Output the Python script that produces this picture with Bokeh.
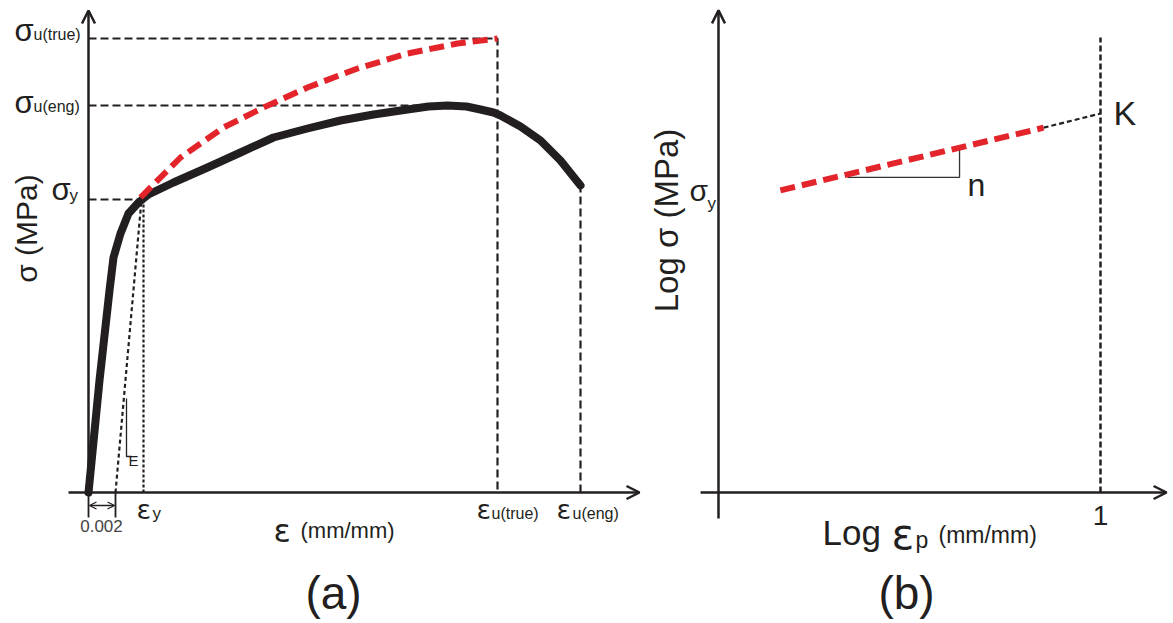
import math
from bokeh.plotting import figure
from bokeh.layouts import row
from bokeh.models import Range1d, Label, Arrow, OpenHead
from bokeh.embed import file_html
from bokeh.resources import INLINE

# ---------------- data: panel (a) engineering / true stress-strain (schematic units) -------------
eng_strain = [0.0, 0.11, 0.21, 0.25, 0.32, 0.40, 0.50, 0.60, 0.85, 1.19, 1.52, 1.85, 2.19,
              2.52, 2.85, 3.19, 3.40, 3.59, 3.78, 3.92, 4.05, 4.12, 4.32, 4.52, 4.72, 4.92]
eng_stress = [0.0, 1.12, 2.02, 2.35, 2.59, 2.79, 2.90, 2.98, 3.10, 3.25, 3.40, 3.55, 3.64,
              3.72, 3.78, 3.83, 3.86, 3.87, 3.86, 3.83, 3.80, 3.77, 3.66, 3.52, 3.32, 3.07]
true_strain = [0.52, 0.92, 1.35, 1.75, 2.19, 2.69, 3.19, 3.69, 4.09]
true_stress = [2.95, 3.35, 3.65, 3.85, 4.05, 4.24, 4.39, 4.49, 4.54]

eps_y, sigma_y = 0.55, 2.93
eps_u_true, sigma_u_true = 4.09, 4.54
eps_peak, sigma_u_eng = 3.59, 3.87
eps_u_eng, sigma_break = 4.92, 3.07
offset = 0.27
offset_top = 0.53
e_tri_x = [0.38, 0.38, 0.43]
e_tri_y = [0.94, 0.36, 0.36]

# ---------------- data: panel (b) log-log (schematic units) ----------------
log_strain = [0.162, 0.851]
log_stress = [0.791, 0.955]
k_strain, k_stress = 1.0, 0.992
n_tri_x = [0.338, 0.631, 0.631]
n_tri_y = [0.825, 0.825, 0.903]

INK = "#231f20"
RED = "#e3242b"
FONT = "Liberation Sans"
EFONT = "DejaVu Sans"
H = 621
WA, WB = 645, 525
BASE_FIX = 8  # alphabetic-baseline labels render a little low


def base_fig(w, xr, yr):
    p = figure(width=w, height=H, x_range=Range1d(*xr), y_range=Range1d(*yr),
               x_axis_type=None, y_axis_type=None, output_backend="svg",
               toolbar_location=None, min_border=0)
    p.outline_line_color = None
    p.background_fill_color = "white"
    p.border_fill_color = "white"
    return p


def lab(p, xoff, rx, ry, text, size, align="left", baseline="alphabetic", angle=0.0,
        color=INK, font=FONT):
    fix = BASE_FIX if baseline == "alphabetic" else 0
    p.add_layout(Label(x=rx - xoff, y=H - ry + fix, x_units="screen", y_units="screen", text=text,
                       text_font=font, text_font_size=f"{size}px", text_color=color,
                       text_align=align, text_baseline=baseline, angle=angle))


def axis_arrow(p, x0, y0, x1, y1):
    p.add_layout(Arrow(end=OpenHead(size=13, line_width=2.5, line_color=INK),
                       x_start=x0, y_start=y0, x_end=x1, y_end=y1,
                       line_width=2.5, line_color=INK))


# ---------------- panel (a) ----------------
pa = base_fig(WA, (-0.88, (WA - 88) / 100), ((492 - H) / 100, 4.92))
axis_arrow(pa, -0.2, 0, 5.51, 0)
axis_arrow(pa, 0, 0, 0, 4.82)

dash_kw = dict(line_color=INK, line_width=2.2, line_dash="8 4")
pa.line([0, eps_u_true, eps_u_true], [sigma_u_true, sigma_u_true, 0], **dash_kw)
pa.line([0, eps_peak], [sigma_u_eng, sigma_u_eng], **dash_kw)
pa.line([0, eps_y - 0.03], [sigma_y, sigma_y], **dash_kw)
pa.line([eps_u_eng, eps_u_eng], [0, sigma_break], **dash_kw)
pa.line([eps_y, eps_y], [0, sigma_y], line_color=INK, line_width=2.2, line_dash="3 2")
pa.line([offset, offset_top], [0, sigma_y], line_color=INK, line_width=2.2, line_dash="4 3")
pa.line(e_tri_x, e_tri_y, line_color=INK, line_width=1.3)

# 0.002 marker
pa.segment([0, offset], [0, 0], [0, offset], [-0.25, -0.25], line_color=INK, line_width=1.8)
pa.add_layout(Arrow(start=OpenHead(size=7, line_width=1.3, line_color=INK),
                    end=OpenHead(size=7, line_width=1.3, line_color=INK),
                    x_start=0.01, y_start=-0.13, x_end=offset - 0.01, y_end=-0.13,
                    line_width=1.3, line_color=INK))

pa.line(eng_strain, eng_stress, line_color=INK, line_width=8, line_join="round", line_cap="round")
pa.line(true_strain, true_stress, line_color=RED, line_width=6, line_dash="15 7")

X = 0
lab(pa, X, 14, 38, "σ", 31)
lab(pa, X, 33, 42, "u(true)", 16)
lab(pa, X, 14, 110, "σ", 31)
lab(pa, X, 33, 114, "u(eng)", 16)
lab(pa, X, 51, 197, "σ", 31)
lab(pa, X, 69, 203, "y", 17)
lab(pa, X, 26, 228, "σ (MPa)", 30, align="center", baseline="middle", angle=math.pi / 2)
lab(pa, X, 273, 538, "ε", 32, font=EFONT)
lab(pa, X, 300, 538, "(mm/mm)", 22)
lab(pa, X, 333, 600, "(a)", 46, align="center")
lab(pa, X, 136, 517, "ε", 27, font=EFONT)
lab(pa, X, 152, 521, "y", 17)
lab(pa, X, 476, 517, "ε", 27, font=EFONT)
lab(pa, X, 491, 521, "u(true)", 16)
lab(pa, X, 556, 517, "ε", 27, font=EFONT)
lab(pa, X, 572, 521, "u(eng)", 16)
lab(pa, X, 101, 533, "0.002", 17, align="center", color="#444444")
lab(pa, X, 128, 468, "E", 15)

# ---------------- panel (b) ----------------
pb = base_fig(WB, ((WA - 718) / 382, (WA + WB - 718) / 382), ((492 - H) / 382, 492 / 382))
axis_arrow(pb, -0.047, 0, 1.173, 0)
axis_arrow(pb, 0, -0.068, 0, 1.262)
pb.line([k_strain, k_strain], [0, 1.191], line_color=INK, line_width=2.5, line_dash="6 3")
pb.line([log_strain[-1], k_strain], [log_stress[-1], k_stress], line_color=INK, line_width=2.2, line_dash="5 3")
pb.line(n_tri_x, n_tri_y, line_color="#333333", line_width=1.3)
pb.line(log_strain, log_stress, line_color=RED, line_width=6, line_dash="15 7")

X = WA
lab(pb, X, 666, 220, "Log σ (MPa)", 33, align="center", baseline="middle", angle=math.pi / 2)
lab(pb, X, 689, 198, "σ", 30)
lab(pb, X, 707, 211, "y", 17)
lab(pb, X, 967, 192, "n", 32)
lab(pb, X, 1113, 120, "K", 34)
lab(pb, X, 1100, 523, "1", 28, align="center")
lab(pb, X, 822, 540, "Log", 35)
lab(pb, X, 891, 542, "ε", 42, font=EFONT)
lab(pb, X, 915, 547, "p", 23)
lab(pb, X, 938, 542, "(mm/mm)", 23)
lab(pb, X, 906, 600, "(b)", 46, align="center")

layout = row(pa, pb)
open("out.html", "w").write(file_html(layout, INLINE))
